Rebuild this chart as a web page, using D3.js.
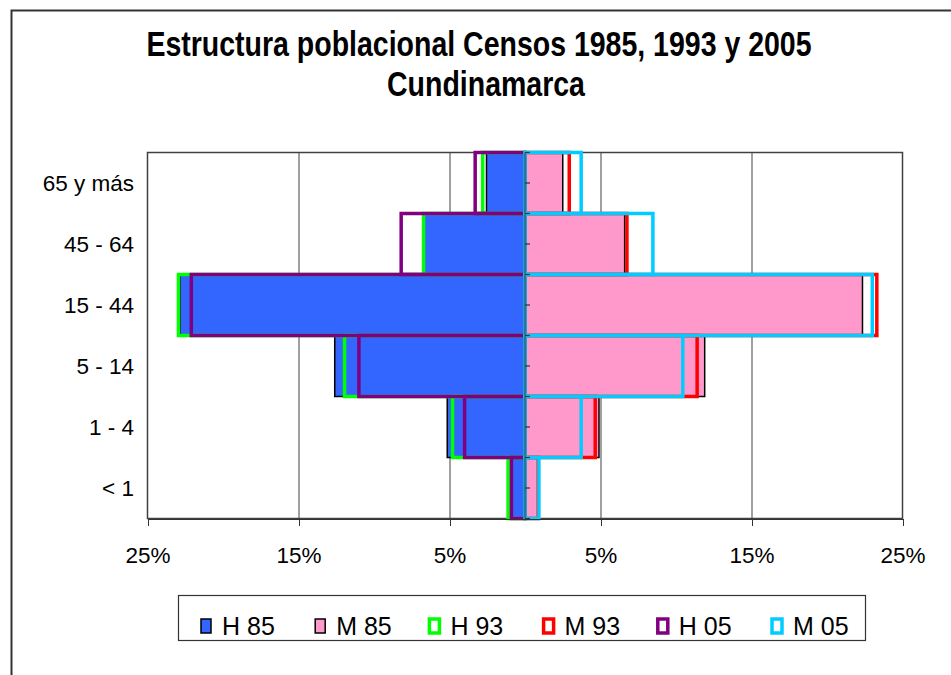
<!DOCTYPE html>
<meta charset="utf-8">
<style>
 body { margin: 0; background: #fff; }
 text { font-family: "Liberation Sans", Arial, sans-serif; fill: #000; }
 .title { font-size: 28.5px; font-weight: bold; }
 .cat { font-size: 22.5px; }
 .axis text { font-size: 22.5px; font-family: "Liberation Sans", Arial, sans-serif; }
 .axis path, .axis line { stroke: #333; shape-rendering: crispEdges; }
 .legend text { font-size: 25px; }
</style>
<body>
<svg width="951" height="675"></svg>
<script src="https://cdn.jsdelivr.net/npm/d3@7/dist/d3.min.js"></script>
<script>

 // age groups, top to bottom
 var categories = ["65 y más", "45 - 64", "15 - 44", "5 - 14", "1 - 4", "< 1"];

 // percent of population per census (H = hombres, M = mujeres)
 var h85 = [2.55, 6.7, 22.85, 12.6, 5.15, 0.9];
 var m85 = [2.5, 6.6, 22.35, 11.9, 4.9, 0.85];
 var h93 = [2.8, 6.72, 22.95, 11.95, 4.8, 1.12];
 var m93 = [2.93, 6.75, 23.3, 11.4, 4.65, 0.88];
 var h05 = [3.3, 8.2, 22.1, 11.0, 4.0, 0.9];
 var m05 = [3.72, 8.47, 23.0, 10.45, 3.72, 0.92];

 var seriesNames = ["H 85", "M 85", "H 93", "M 93", "H 05", "M 05"];
 var tickValues = [-25, -15, -5, 5, 15, 25];
 var tickLabels = ["25%", "15%", "5%", "5%", "15%", "25%"];

 var series = [
     {name: seriesNames[0], values: h85, side: -1, fill: "#3366ff", stroke: "#000", sw: 1.5},
     {name: seriesNames[1], values: m85, side: 1, fill: "#ff99cc", stroke: "#000", sw: 1.5},
     {name: seriesNames[2], values: h93, side: -1, fill: "none", stroke: "#00ff00", sw: 3.5},
     {name: seriesNames[3], values: m93, side: 1, fill: "none", stroke: "#ff0000", sw: 3.5},
     {name: seriesNames[4], values: h05, side: -1, fill: "none", stroke: "#800080", sw: 3.5},
     {name: seriesNames[5], values: m05, side: 1, fill: "none", stroke: "#00ccff", sw: 3.5}
 ];

 var svg = d3.select("svg");

 // outer chart frame (runs off the right and bottom)
 svg.append("rect")
    .attr("x", 11.5).attr("y", 10.5)
    .attr("width", 1000).attr("height", 700)
    .style("fill", "#fff")
    .style("stroke", "#333")
    .style("stroke-width", 2);

 var title = svg.append("g").attr("class", "title");
 title.append("text")
      .attr("transform", "translate(479,56) scale(1,1.2)")
      .attr("text-anchor", "middle")
      .text("Estructura poblacional Censos 1985, 1993 y 2005");
 title.append("text")
      .attr("transform", "translate(486,96) scale(1,1.2)")
      .attr("text-anchor", "middle")
      .text("Cundinamarca");

 var plot = {left: 147.5, right: 902.5, top: 152.5, bottom: 518.5};

 var x = d3.scaleLinear()
           .domain([-25, 25])
           .range([plot.left, plot.right]);

 var y = d3.scaleBand()
           .domain(categories)
           .range([plot.top, plot.bottom])
           .padding(0);

 // grid lines
 svg.append("g")
    .selectAll("line")
    .data(tickValues.filter(function(d) { return Math.abs(d) < 25; }))
    .enter().append("line")
    .attr("x1", function(d) { return x(d) + 0.5; })
    .attr("x2", function(d) { return x(d) + 0.5; })
    .attr("y1", plot.top)
    .attr("y2", plot.bottom)
    .style("stroke", "#808080")
    .style("stroke-width", 1.5);

 svg.append("rect")
    .attr("x", plot.left).attr("y", plot.top)
    .attr("width", plot.right - plot.left)
    .attr("height", plot.bottom - plot.top)
    .style("fill", "none")
    .style("stroke", "#404040")
    .style("stroke-width", 1.5);

 // bars, drawn in series order so later outlines sit on top
 series.forEach(function(s) {
     svg.append("g")
        .selectAll("rect")
        .data(s.values)
        .enter().append("rect")
        .attr("x", function(v) { return s.side < 0 ? x(-v) : x(0); })
        .attr("width", function(v) { return Math.abs(x(v) - x(0)); })
        .attr("y", function(v, i) { return y(categories[i]); })
        .attr("height", y.bandwidth())
        .style("fill", s.fill)
        .style("stroke", s.stroke)
        .style("stroke-width", s.sw);
 });

 // centre category axis with small ticks
 var centre = svg.append("g");
 centre.append("line")
       .attr("x1", x(0)).attr("x2", x(0))
       .attr("y1", plot.top).attr("y2", plot.bottom)
       .style("stroke", "#333");
 centre.selectAll("line.t")
       .data(categories.flatMap(function(c) { return [y(c), y(c) + y.bandwidth() / 2]; }).concat([plot.bottom]))
       .enter().append("line")
       .attr("class", "t")
       .attr("x1", x(0)).attr("x2", x(0) + 5)
       .attr("y1", function(d) { return d; })
       .attr("y2", function(d) { return d; })
       .style("stroke", "#333")
       .style("stroke-width", 1.2);

 // category labels
 svg.append("g")
    .selectAll("text")
    .data(categories)
    .enter().append("text")
    .attr("class", "cat")
    .attr("x", 134)
    .attr("y", function(d) { return y(d) + y.bandwidth() / 2; })
    .attr("dy", "0.36em")
    .attr("text-anchor", "end")
    .text(function(d) { return d; });

 // value axis
 svg.append("g")
    .attr("class", "axis")
    .attr("transform", "translate(0," + plot.bottom + ")")
    .call(d3.axisBottom(x)
            .tickValues(tickValues)
            .tickFormat(function(d, i) { return tickLabels[i]; })
            .tickSize(7)
            .tickSizeOuter(0)
            .tickPadding(22))
    .call(function(g) { g.selectAll("text").attr("fill", "#000"); });

 // legend
 var legend = svg.append("g").attr("class", "legend");
 legend.append("rect")
       .attr("x", 178.5).attr("y", 595.5)
       .attr("width", 687).attr("height", 45)
       .style("fill", "#fff")
       .style("stroke", "#333")
       .style("stroke-width", 1.2);

 var item = legend.selectAll("g.item")
                  .data(series)
                  .enter().append("g")
                  .attr("class", "item")
                  .attr("transform", function(d, i) { return "translate(" + (201 + i * 114.2) + ",618)"; });
 item.append("rect")
     .attr("x", 0).attr("y", 1)
     .attr("width", 10).attr("height", 14)
     .style("fill", function(d) { return d.fill === "none" ? "#fff" : d.fill; })
     .style("stroke", function(d) { return d.stroke; })
     .style("stroke-width", function(d) { return d.sw; });
 item.append("text")
     .attr("x", 21)
     .attr("y", 8)
     .attr("dy", "0.36em")
     .text(function(d) { return d.name; });

</script>
</body>
